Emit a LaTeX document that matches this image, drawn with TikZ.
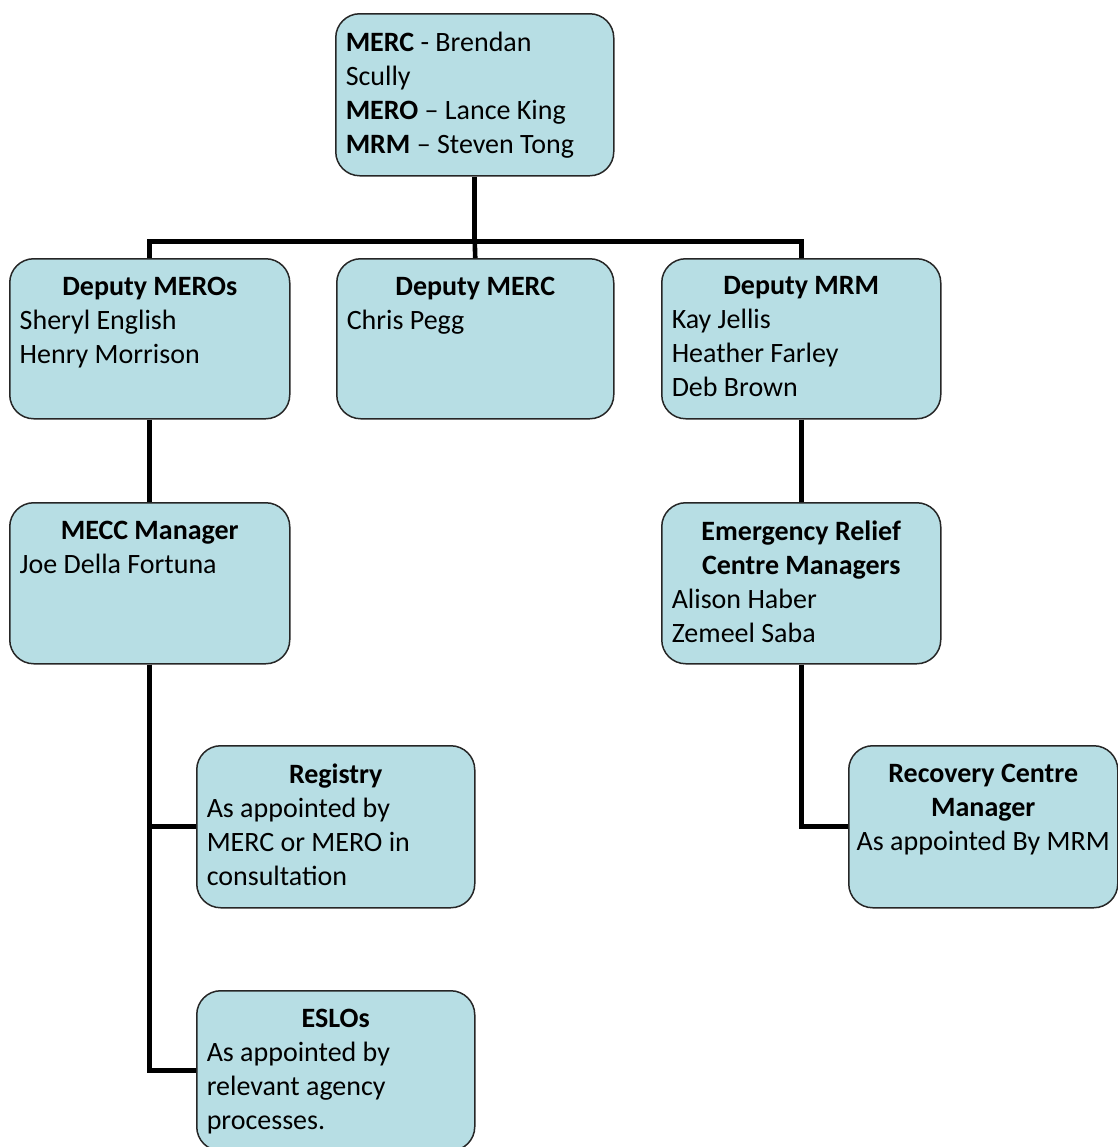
\documentclass[tikz,border=0pt]{standalone}
\usepackage{fontspec}
\setmainfont{Carlito}
\usetikzlibrary{positioning,calc}
\definecolor{CardFill}{RGB}{183,222,228}
\definecolor{CardEdge}{RGB}{38,38,38}
\newcommand{\cardtext}[3]{\parbox[c][#2][t]{#1}{\vspace*{4pt}\fontsize{14pt}{17pt}\selectfont#3}}

\begin{document}
\begin{tikzpicture}[x=.5pt,y=-.5pt,
    card/.style={draw=CardEdge,line width=.75pt,fill=CardFill,rounded corners=12pt,
      inner sep=5pt,anchor=north west},
    link/.style={line width=2.3pt,black}]
  \useasboundingbox (0,0) rectangle (1118,1147);
  \node[card] (top) at (335,13) {\cardtext{129pt}{71pt}{\raggedright
    \textbf{MERC} - Brendan\\Scully\\\textbf{MERO} – Lance King\\\textbf{MRM} – Steven Tong}};
  \node[card] (dmero) at (9,258) {\cardtext{130pt}{70pt}{\centering\textbf{Deputy MEROs}\par
    \raggedright Sheryl English\\Henry Morrison}};
  \node[card] (dmerc) at (336,258) {\cardtext{128.5pt}{70pt}{\centering\textbf{Deputy MERC}\par
    \raggedright Chris Pegg}};
  \node[card] (dmrm) at (661,258) {\cardtext{129.5pt}{70pt}{\centering\textbf{Deputy MRM}\par
    \raggedright Kay Jellis\\Heather Farley\\Deb Brown}};
  \node[card] (mecc) at (9,502) {\cardtext{130pt}{70.5pt}{\centering\textbf{MECC Manager}\par
    \raggedright Joe Della Fortuna}};
  \node[card] (erc) at (661,502) {\cardtext{129.5pt}{70.5pt}{\centering\textbf{Emergency Relief}\\
    \textbf{Centre Managers}\par\raggedright Alison Haber\\Zemeel Saba}};
  \node[card] (registry) at (196,745) {\cardtext{129pt}{71pt}{\centering\textbf{Registry}\par
    \raggedright As appointed by\\MERC or MERO in\\consultation}};
  \node[card] (recovery) at (848,745) {\cardtext{124.5pt}{71pt}{\centering\textbf{Recovery Centre}\\
    \textbf{Manager}\\\makebox[\linewidth]{As appointed By MRM}}};
  \node[card] (eslo) at (196,990) {\cardtext{129pt}{70pt}{\centering\textbf{ESLOs}\par
    \raggedright As appointed by\\relevant agency\\processes.}};

  \draw[link] (top.south) -- ++(0,65) coordinate (hub);
  \draw[link] (dmero.north) |- (hub) -| (dmrm.north);
  \draw[link] (hub) -- (dmerc.north);
  \draw[link] (dmero.south) -- (mecc.north);
  \draw[link] (mecc.south) |- (registry.west);
  \draw[link] (mecc.south) |- (eslo.west);
  \draw[link] (dmrm.south) -- (erc.north);
  \draw[link] (erc.south) |- (recovery.west);
\end{tikzpicture}
\end{document}
